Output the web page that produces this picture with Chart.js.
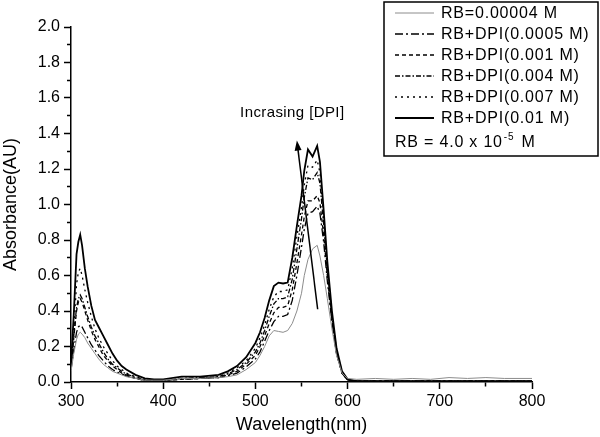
<!DOCTYPE html>
<html>
<head>
<meta charset="utf-8">
<script src="https://cdn.jsdelivr.net/npm/chart.js@4.4.0/dist/chart.umd.min.js"></script>
<style>
  html, body { margin: 0; padding: 0; background: #fff; }
  #wrap { width: 600px; height: 437px; position: relative; }
</style>
</head>
<body>
<div id="wrap"><canvas id="myChart"></canvas></div>
<script>
// wavelength (nm)
var wavelengths = [300, 303, 306, 308, 310, 312, 315, 318, 322, 326,
    330, 335, 340, 345, 350, 355, 360, 370, 380, 390,
    400, 420, 440, 460, 470, 480, 490, 500, 505, 510,
    515, 520, 525, 530, 535, 540, 545, 550, 553, 557,
    562, 567, 570, 574, 578, 583, 588, 594, 600, 610,
    630, 650, 670, 690, 710, 730, 750, 770, 800];

var rbOnly = [0.06, 0.16, 0.24, 0.27, 0.28, 0.27, 0.25, 0.22, 0.19, 0.16,
    0.13, 0.10, 0.08, 0.06, 0.05, 0.04, 0.03, 0.02, 0.01, 0.01,
    0.01, 0.02, 0.02, 0.025, 0.03, 0.04, 0.07, 0.11, 0.15, 0.20,
    0.26, 0.29, 0.285, 0.28, 0.29, 0.33, 0.40, 0.50, 0.60, 0.69,
    0.75, 0.77, 0.71, 0.60, 0.47, 0.30, 0.15, 0.05, 0.02, 0.015,
    0.02, 0.015, 0.02, 0.015, 0.025, 0.02, 0.025, 0.02, 0.02];

var dpi0005 = [0.07, 0.18, 0.28, 0.31, 0.32, 0.31, 0.28, 0.25, 0.21, 0.18,
    0.15, 0.12, 0.09, 0.07, 0.055, 0.045, 0.035, 0.02, 0.01, 0.008,
    0.01, 0.015, 0.02, 0.025, 0.035, 0.05, 0.085, 0.13, 0.17, 0.23,
    0.29, 0.34, 0.37, 0.37, 0.38, 0.46, 0.60, 0.76, 0.86, 0.95,
    0.96, 0.99, 0.95, 0.79, 0.57, 0.34, 0.16, 0.05, 0.012, 0.005,
    0.005, 0.005, 0.005, 0.005, 0.005, 0.005, 0.005, 0.005, 0.005];

var dpi001 = [0.08, 0.25, 0.40, 0.45, 0.47, 0.45, 0.40, 0.35, 0.29, 0.24,
    0.20, 0.15, 0.12, 0.09, 0.07, 0.05, 0.04, 0.02, 0.01, 0.008,
    0.01, 0.015, 0.02, 0.025, 0.04, 0.06, 0.10, 0.15, 0.20, 0.26,
    0.33, 0.39, 0.42, 0.42, 0.43, 0.52, 0.67, 0.83, 0.93, 1.02,
    1.02, 1.05, 1.01, 0.83, 0.60, 0.35, 0.16, 0.05, 0.012, 0.005,
    0.005, 0.005, 0.005, 0.005, 0.005, 0.005, 0.005, 0.005, 0.005];

var dpi004 = [0.08, 0.26, 0.42, 0.47, 0.49, 0.47, 0.42, 0.37, 0.31, 0.26,
    0.22, 0.17, 0.13, 0.10, 0.08, 0.06, 0.045, 0.025, 0.012, 0.008,
    0.01, 0.02, 0.025, 0.03, 0.045, 0.07, 0.11, 0.17, 0.22, 0.29,
    0.37, 0.44, 0.47, 0.47, 0.48, 0.58, 0.75, 0.92, 1.04, 1.15,
    1.14, 1.18, 1.12, 0.89, 0.63, 0.37, 0.17, 0.05, 0.012, 0.005,
    0.005, 0.005, 0.005, 0.005, 0.005, 0.005, 0.005, 0.005, 0.005];

var dpi007 = [0.09, 0.30, 0.55, 0.62, 0.64, 0.60, 0.52, 0.45, 0.37, 0.30,
    0.25, 0.20, 0.16, 0.12, 0.09, 0.07, 0.05, 0.03, 0.015, 0.01,
    0.01, 0.02, 0.02, 0.03, 0.05, 0.08, 0.12, 0.19, 0.25, 0.32,
    0.41, 0.48, 0.51, 0.51, 0.52, 0.64, 0.82, 0.98, 1.11, 1.22,
    1.21, 1.25, 1.18, 0.93, 0.65, 0.38, 0.18, 0.055, 0.012, 0.005,
    0.005, 0.005, 0.005, 0.005, 0.005, 0.005, 0.005, 0.005, 0.005];

var dpi01 = [0.10, 0.38, 0.72, 0.79, 0.83, 0.77, 0.64, 0.54, 0.43, 0.35,
    0.31, 0.26, 0.21, 0.16, 0.12, 0.09, 0.07, 0.04, 0.02, 0.015,
    0.015, 0.03, 0.03, 0.04, 0.06, 0.09, 0.14, 0.22, 0.28, 0.36,
    0.46, 0.54, 0.56, 0.555, 0.56, 0.70, 0.88, 1.05, 1.19, 1.31,
    1.27, 1.33, 1.24, 0.97, 0.68, 0.40, 0.19, 0.06, 0.015, 0.005,
    0.005, 0.005, 0.005, 0.005, 0.005, 0.005, 0.005, 0.005, 0.005];

var seriesLabels = ['RB=0.00004 M', 'RB+DPI(0.0005 M)', 'RB+DPI(0.001 M)',
    'RB+DPI(0.004 M)', 'RB+DPI(0.007 M)', 'RB+DPI(0.01 M)'];

// annotation arrow, in data units (nm, AU)
var arrowFrom = [567.5, 0.41];
var arrowTo = [545, 1.36];
var arrowText = 'Incrasing [DPI]';
var arrowTextAt = [540, 1.515];

var FONT = '"Liberation Sans", Arial, sans-serif';

function toPoints(ys) {
    return ys.map(function (y, i) { return { x: wavelengths[i], y: y }; });
}

function line(label, ys, color, width, dash) {
    return {
        label: label,
        data: toPoints(ys),
        borderColor: color,
        borderWidth: width,
        borderDash: dash,
        pointRadius: 0,
        fill: false,
        tension: 0
    };
}

var legendBox = {
    id: 'legendBox',
    afterDraw: function (chart) {
        var ctx = chart.ctx;
        ctx.save();
        // box
        ctx.fillStyle = '#fff';
        ctx.fillRect(384, 2, 214, 154);
        ctx.strokeStyle = '#000';
        ctx.lineWidth = 1.5;
        ctx.strokeRect(384, 2, 214, 154);

        ctx.font = '16px ' + FONT;
        ctx.textBaseline = 'middle';
        ctx.fillStyle = '#000';
        if ('letterSpacing' in ctx) ctx.letterSpacing = '0.8px';
        var rows = [13, 34, 55, 76, 97, 118];
        chart.data.datasets.forEach(function (ds, i) {
            var y = rows[i];
            ctx.beginPath();
            ctx.strokeStyle = ds.borderColor;
            ctx.lineWidth = ds.borderWidth;
            ctx.setLineDash(ds.borderDash || []);
            ctx.moveTo(395, y);
            ctx.lineTo(434, y);
            ctx.stroke();
            ctx.setLineDash([]);
            ctx.fillText(ds.label, 441, y + 1);
        });
        // concentration note with superscript
        var x = 395, y = 143;
        var s1 = 'RB = 4.0 x 10';
        ctx.fillText(s1, x, y);
        x += ctx.measureText(s1).width;
        ctx.font = '10px ' + FONT;
        ctx.fillText('-5', x + 1, y - 6);
        x += ctx.measureText('-5').width + 3;
        ctx.font = '16px ' + FONT;
        ctx.fillText(' M', x, y);

        // arrow
        var sx = chart.scales.x, sy = chart.scales.y;
        var x1 = sx.getPixelForValue(arrowFrom[0]), y1 = sy.getPixelForValue(arrowFrom[1]);
        var x2 = sx.getPixelForValue(arrowTo[0]), y2 = sy.getPixelForValue(arrowTo[1]);
        var ang = Math.atan2(y2 - y1, x2 - x1);
        ctx.strokeStyle = '#000';
        ctx.lineWidth = 1.5;
        ctx.beginPath();
        ctx.moveTo(x1, y1);
        ctx.lineTo(x2 - 6 * Math.cos(ang), y2 - 6 * Math.sin(ang));
        ctx.stroke();
        ctx.beginPath();
        ctx.moveTo(x2, y2);
        ctx.lineTo(x2 - 10 * Math.cos(ang) + 3.5 * Math.sin(ang), y2 - 10 * Math.sin(ang) - 3.5 * Math.cos(ang));
        ctx.lineTo(x2 - 10 * Math.cos(ang) - 3.5 * Math.sin(ang), y2 - 10 * Math.sin(ang) + 3.5 * Math.cos(ang));
        ctx.closePath();
        ctx.fillStyle = '#000';
        ctx.fill();

        if ('letterSpacing' in ctx) ctx.letterSpacing = '0.4px';
        ctx.font = '15px ' + FONT;
        ctx.textAlign = 'center';
        ctx.fillText(arrowText, sx.getPixelForValue(arrowTextAt[0]), sy.getPixelForValue(arrowTextAt[1]));
        ctx.restore();
    }
};

var ctx = document.getElementById('myChart').getContext('2d');

var myChart = new Chart(ctx, {
    type: 'line',
    data: {
        datasets: [
            line(seriesLabels[0], rbOnly, '#8c8c8c', 1, []),
            line(seriesLabels[1], dpi0005, '#000', 1.3, [8, 3, 2, 3]),
            line(seriesLabels[2], dpi001, '#000', 1.3, [4, 3]),
            line(seriesLabels[3], dpi004, '#000', 1.3, [5, 2, 1.5, 2]),
            line(seriesLabels[4], dpi007, '#000', 1.3, [2, 4]),
            line(seriesLabels[5], dpi01, '#000', 1.8, [])
        ]
    },
    options: {
        responsive: true,
        maintainAspectRatio: false,
        animation: false,
        layout: { padding: { left: 0, top: 27, right: 68, bottom: 0 } },
        plugins: {
            legend: { display: false },
            tooltip: { enabled: false }
        },
        scales: {
            x: {
                type: 'linear',
                min: 300,
                max: 800,
                afterFit: function (scale) { scale.height = 55; },
                border: { color: '#000', width: 1.5 },
                grid: {
                    drawOnChartArea: false,
                    tickLength: 7,
                    tickColor: '#000',
                    tickWidth: 1.5,
                    tickBorderDash: function (c) { return c.tick && c.tick.value % 100 !== 0 ? [4, 50] : []; }
                },
                ticks: {
                    stepSize: 50,
                    padding: 3,
                    color: '#000',
                    maxRotation: 0,
                    autoSkip: false,
                    font: { family: FONT, size: 16 },
                    callback: function (v) { return v % 100 === 0 ? String(v) : ''; }
                },
                title: {
                    display: true,
                    text: 'Wavelength(nm)',
                    color: '#000',
                    font: { family: FONT, size: 18 },
                    padding: { top: 0, bottom: 1 }
                }
            },
            y: {
                min: 0,
                max: 2,
                afterFit: function (scale) { scale.width = 71; },
                border: { color: '#000', width: 1.5 },
                grid: {
                    drawOnChartArea: false,
                    tickLength: 7,
                    tickColor: '#000',
                    tickWidth: 1.5,
                    tickBorderDash: function (c) { return c.index % 2 === 1 ? [0, 3, 4, 50] : []; }
                },
                ticks: {
                    stepSize: 0.1,
                    padding: 4,
                    color: '#000',
                    autoSkip: false,
                    font: { family: FONT, size: 16 },
                    callback: function (v, i) { return i % 2 === 0 ? v.toFixed(1) : ''; }
                },
                title: {
                    display: true,
                    text: 'Absorbance(AU)',
                    color: '#000',
                    font: { family: FONT, size: 18 },
                    padding: { top: 0, bottom: 0 }
                }
            }
        }
    },
    plugins: [legendBox]
});
</script>
</body>
</html>
